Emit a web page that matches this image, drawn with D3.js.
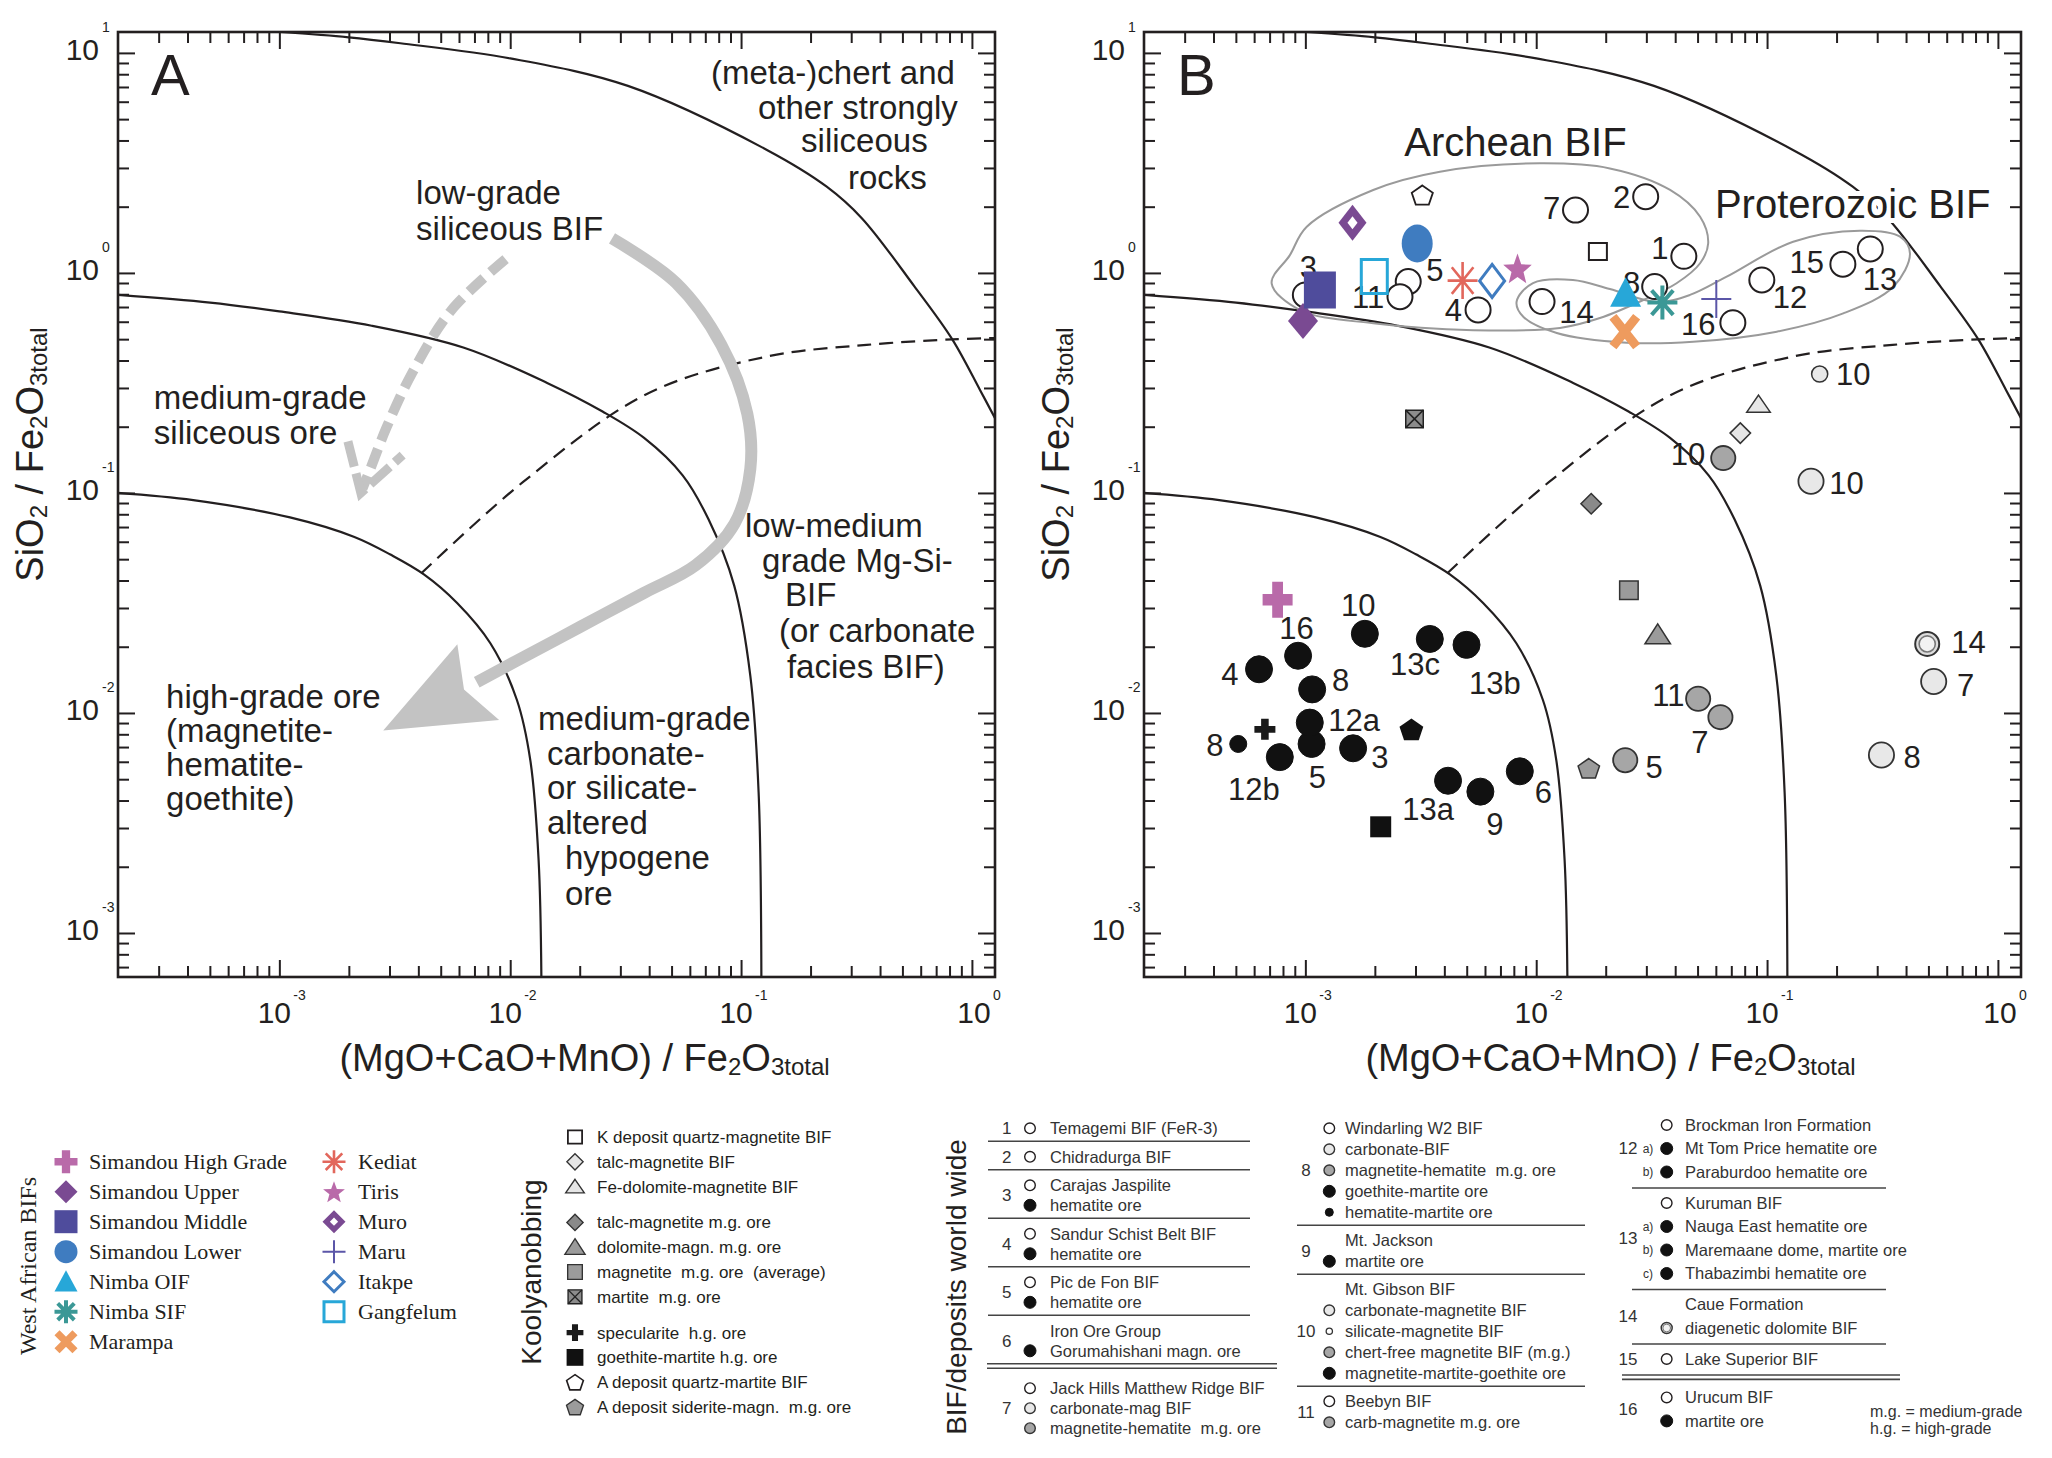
<!DOCTYPE html>
<html>
<head>
<meta charset="utf-8">
<title>SiO2 / Fe2O3 vs (MgO+CaO+MnO) / Fe2O3</title>
<script src="https://cdn.jsdelivr.net/npm/d3@7/dist/d3.min.js"></script>
<style>
  body { margin: 0; background: #ffffff; }
  svg text { font-family: "Liberation Sans", Arial, Helvetica, sans-serif; fill: #231f20; }
  svg text.serif { font-family: "Liberation Serif", "Times New Roman", serif; }
</style>
</head>
<body>
<div id="chart"></div>
<script>
/* ================= data ================= */

// axis ticks (decades) and their exponent labels
var xMajorTicks = [1e-3, 1e-2, 1e-1, 1];
var xTickLabels = ["-3", "-2", "-1", "0"];
var yMajorTicks = [1e-3, 1e-2, 1e-1, 1, 10];
var yTickLabels = ["-3", "-2", "-1", "0", "1"];

// field boundaries, as [log10 x, log10 y]
var outerBoundary = [[-2.996,1.095],[-2.7,1.071],[-2.476,1.044],[-2.0,0.975],[-1.49,0.85],[-0.888,0.559],
  [-0.629,0.392],[-0.477,0.249],[-0.25,-0.06],[-0.085,-0.302],[0.035,-0.532],[0.1,-0.66]];
var middleBoundary = [[-3.699,-0.10],[-3.3,-0.135],[-3.0,-0.175],[-2.6,-0.24],[-2.2,-0.34],[-1.84,-0.5],
  [-1.6,-0.63],[-1.42,-0.75],[-1.253,-0.92],[-1.141,-1.12],[-1.03,-1.42],[-0.96,-1.83],[-0.924,-2.36],[-0.912,-3.2]];
var innerBoundary = [[-3.699,-1.0],[-3.373,-1.033],[-2.954,-1.111],[-2.675,-1.2],[-2.519,-1.28],[-2.374,-1.37],
  [-2.23,-1.5],[-2.086,-1.683],[-1.971,-1.941],[-1.913,-2.214],[-1.877,-2.668],[-1.865,-3.2]];
var dashedBoundary = [[-2.385,-1.365],[-1.944,-0.95],[-1.408,-0.55],[-0.888,-0.38],[-0.456,-0.327],[-0.085,-0.302],[0.1,-0.296]];

// grey envelopes of panel B, [log10 x, log10 y]
var archeanOutline = [[-3.146,-0.047],[-3.067,0.081],[-2.994,0.21],[-2.706,0.377],[-2.417,0.46],[-1.984,0.498],
  [-1.681,0.475],[-1.42,0.377],[-1.29,0.255],[-1.255,0.135],[-1.29,0.044],[-1.392,-0.047],[-1.536,-0.123],
  [-1.724,-0.205],[-1.897,-0.25],[-2.273,-0.26],[-2.706,-0.229],[-3.023,-0.169]];
var proterozoicOutline = [[-2.085,-0.131],[-2.014,-0.046],[-1.841,-0.032],[-1.681,-0.073],[-1.478,-0.132],
  [-1.334,-0.1],[-1.175,-0.017],[-0.887,0.142],[-0.598,0.192],[-0.424,0.165],[-0.381,0.089],[-0.453,-0.063],
  [-0.67,-0.184],[-0.958,-0.267],[-1.32,-0.313],[-1.608,-0.317],[-1.911,-0.273],[-2.056,-0.199]];

// panel A alteration arrows, [log10 x, log10 y]
var solidArrowPath = [[-1.559,0.157],[-1.281,-0.046],[-1.085,-0.328],[-0.973,-0.64],[-0.96,-0.891],[-1.029,-1.141],
  [-1.197,-1.329],[-1.42,-1.454],[-1.699,-1.61],[-1.978,-1.766],[-2.145,-1.86]];
var solidArrowHead = [[-2.55,-2.08],[-2.229,-1.688],[-2.048,-2.032]];   // tip, upper corner, lower corner
var dashedArrowPath = [[-2.02,0.063],[-2.256,-0.171],[-2.424,-0.453],[-2.536,-0.703],[-2.606,-0.891],[-2.64,-0.98]];
var dashedArrowHead = [[-2.703,-0.766],[-2.647,-1.0],[-2.466,-0.828]]; // arm, tip, arm

// panel A field names: [text, x, y]
var panelANotes = [
  ["(meta-)chert and",0.0741,8.18],["other strongly",0.1183,5.67],["siliceous",0.182,3.98],["rocks",0.2904,2.73],
  ["low-grade",0.00391,2.33],["siliceous BIF",0.00391,1.6],
  ["medium-grade",0.000286,0.273],["siliceous ore",0.000286,0.189],
  ["low-medium",0.104,0.0715],["grade Mg-Si-",0.1233,0.0495],["BIF",0.155,0.0344],["(or carbonate",0.146,0.0236],["facies BIF)",0.158,0.01633],
  ["high-grade ore",0.000323,0.01194],["(magnetite-",0.000323,0.00836],["hematite-",0.000323,0.00586],["goethite)",0.000323,0.0041],
  ["medium-grade",0.01318,0.00948],["carbonate-",0.01442,0.00658],["or silicate-",0.01442,0.0046],["altered",0.01442,0.00319],
  ["hypogene",0.01726,0.00221],["ore",0.01726,0.00152]
];

// West African BIFs
var westAfricanNames = ["Simandou High Grade","Simandou Upper","Simandou Middle","Simandou Lower","Nimba OIF","Nimba SIF",
  "Marampa","Kediat","Tiris","Muro","Maru","Itakpe","Gangfelum"];
var westAfricanValues = [[0.000758,0.0327],[0.000977,0.605],[0.001156,0.837],[0.00305,1.36],[0.0244,0.809],[0.0352,0.733],
  [0.0242,0.541],[0.0048,0.923],[0.0083,1.05],[0.0016,1.69],[0.0603,0.76],[0.00644,0.92],[0.00199,0.962]];

// Koolyanobbing
var koolyanobbingNames = ["K deposit quartz-magnetite BIF","talc-magnetite BIF","Fe-dolomite-magnetite BIF",
  "talc-magnetite m.g. ore","dolomite-magn. m.g. ore","magnetite  m.g. ore  (average)","martite  m.g. ore",
  "specularite  h.g. ore","goethite-martite h.g. ore","A deposit quartz-martite BIF","A deposit siderite-magn.  m.g. ore"];
var koolyanobbingValues = [[0.0185,1.25],[0.0766,0.187],[0.0918,0.253],[0.0173,0.0893],[0.0336,0.0227],[0.0252,0.0361],
  [0.00297,0.217],[0.000668,0.00843],[0.00212,0.00304],[0.00321,2.26],[0.0169,0.00561]];
var koolyanobbingGroupSizes = [3, 4, 4];
var unlistedValues = [[0.00288,0.00843]];   // black pentagon without legend entry

// BIF / deposits world wide: [number, kind, x, y]
var worldValues = [
  ["1","open",0.0436,1.19],["2","open",0.0298,2.22],
  ["3","open",0.001,0.794],["3","black",0.00161,0.00691],
  ["4","open",0.0056,0.679],["4","black",0.00063,0.0158],
  ["5","open",0.00279,0.913],["5","black",0.001064,0.00723],["5","medium",0.0243,0.0061],
  ["6","black",0.00849,0.00543],
  ["7","open",0.0148,1.93],["7","light",0.527,0.0139],["7","medium",0.0628,0.00957],
  ["8","open",0.0326,0.867],["8","light",0.313,0.00644],["8","black",0.00107,0.0128],["8","smallBlack",0.000512,0.00723],
  ["9","black",0.00573,0.00439],
  ["10","light",0.155,0.113],["10","smallLight",0.169,0.347],["10","medium",0.0646,0.144],["10","black",0.00181,0.0229],
  ["11","open",0.00257,0.78],["11","medium",0.0503,0.0116],
  ["12","open",0.0949,0.929],["12a","black",0.001045,0.00904],["12b","black",0.000775,0.0063],
  ["13","open",0.28,1.285],["13a","black",0.00415,0.00492],["13b","black",0.00499,0.0204],["13c","black",0.00346,0.0217],
  ["14","open",0.0106,0.741],["14","ring",0.494,0.0206],
  ["15","open",0.213,1.096],
  ["16","open",0.0711,0.594],["16","black",0.00093,0.0182]
];

// number labels beside the points: [text, x, y]
var pointLabels = [
  ["3",0.00103,1.067],["11",0.00187,0.78],["5",0.00364,1.03],["4",0.00438,0.678],["14",0.01496,0.667],
  ["7",0.01167,1.968],["2",0.02344,2.218],["8",0.02588,0.897],["1",0.03436,1.294],["16",0.05035,0.59],
  ["12",0.1256,0.78],["15",0.1486,1.125],["13",0.3083,0.944],["10",0.236,0.3467],
  ["16",0.000916,0.02427],["10",0.001694,0.03097],["13c",0.002985,0.01679],["13b",0.006622,0.01365],
  ["4",0.000471,0.01514],["8",0.001422,0.01413],["12a",0.001626,0.00929],["5",0.001127,0.00513],
  ["12b",0.000598,0.0045],["8",0.000406,0.00714],["3",0.002104,0.00632],["13a",0.003404,0.00368],
  ["9",0.006622,0.00315],["6",0.01074,0.00439],
  ["10",0.0455,0.15],["10",0.2208,0.1109],["11",0.0374,0.01208],["7",0.0512,0.00738],["5",0.0324,0.00569],
  ["14",0.745,0.02113],["7",0.7244,0.01346],["8",0.4246,0.00634]
];
var regionLabels = [["Archean BIF",0.00813,3.96],["Proterozoic BIF",0.235,2.07]];

// world-wide legend: columns of numbered groups, rows = [symbol, text, sub-letter]
var worldLegendCol1 = [
  {num:"1", sep:"single", rows:[["open","Temagemi BIF (FeR-3)"]]},
  {num:"2", sep:"single", rows:[["open","Chidradurga BIF"]]},
  {num:"3", sep:"single", rows:[["open","Carajas Jaspilite"],["black","hematite ore"]]},
  {num:"4", sep:"single", rows:[["open","Sandur Schist Belt BIF"],["black","hematite ore"]]},
  {num:"5", sep:"single", rows:[["open","Pic de Fon BIF"],["black","hematite ore"]]},
  {num:"6", sep:"double", rows:[[null,"Iron Ore Group"],["black","Gorumahishani magn. ore"]]},
  {num:"7", rows:[["open","Jack Hills Matthew Ridge BIF"],["light","carbonate-mag BIF"],["medium","magnetite-hematite  m.g. ore"]]}
];
var worldLegendCol2 = [
  {num:"8", sep:"single", rows:[["open","Windarling W2 BIF"],["light","carbonate-BIF"],["medium","magnetite-hematite  m.g. ore"],
    ["black","goethite-martite ore"],["smallBlack","hematite-martite ore"]]},
  {num:"9", sep:"single", rows:[[null,"Mt. Jackson"],["black","martite ore"]]},
  {num:"10", sep:"single", rows:[[null,"Mt. Gibson BIF"],["light","carbonate-magnetite BIF"],["tiny","silicate-magnetite BIF"],
    ["medium","chert-free magnetite BIF (m.g.)"],["black","magnetite-martite-goethite ore"]]},
  {num:"11", rows:[["open","Beebyn BIF"],["medium","carb-magnetite m.g. ore"]]}
];
var worldLegendCol3 = [
  {num:"12", sep:"single", rows:[["open","Brockman Iron Formation"],["black","Mt Tom Price hematite ore","a)"],["black","Paraburdoo hematite ore","b)"]]},
  {num:"13", sep:"single", rows:[["open","Kuruman BIF"],["black","Nauga East hematite ore","a)"],["black","Maremaane dome, martite ore","b)"],
    ["black","Thabazimbi hematite ore","c)"]]},
  {num:"14", sep:"single", rows:[[null,"Caue Formation"],["ring","diagenetic dolomite BIF"]]},
  {num:"15", sep:"double", rows:[["open","Lake Superior BIF"]]},
  {num:"16", rows:[["open","Urucum BIF"],["black","martite ore"]]}
];
var gradeNote = ["m.g. = medium-grade", "h.g. = high-grade"];

/* ================= styles ================= */
var ink = "#231f20";

var westAfricanStyle = [
  {shape:"plus", fill:"#b96aa9", w:30, h:36},
  {shape:"diamond", fill:"#7a4a92", w:30, h:36},
  {shape:"square", fill:"#4f4c9c", w:32, h:37},
  {shape:"circle", fill:"#3f7cc0", w:31, h:38},
  {shape:"triangle", fill:"#27a7d8", w:31, h:32},
  {shape:"asterisk", stroke:"#3b9896", sw:4, w:30, h:34},
  {shape:"x", stroke:"#ee9b5e", sw:9, w:30, h:36},
  {shape:"asterisk", stroke:"#e2675c", sw:2.6, w:30, h:37},
  {shape:"star", fill:"#b96aa9", w:30, h:33},
  {shape:"diamondHole", fill:"#7a4a92", w:28, h:36},
  {shape:"thinPlus", stroke:"#5b56a8", sw:2, w:30, h:38},
  {shape:"diamond", fill:"#ffffff", stroke:"#3f7cc0", sw:3, w:28, h:36},
  {shape:"square", fill:"none", stroke:"#27a7d8", sw:3, w:29, h:37}
];
var koolyanobbingStyle = [
  {shape:"square", fill:"#ffffff", stroke:ink, sw:2, w:20, h:19},
  {shape:"diamond", fill:"#e6e6e6", stroke:"#333", sw:1.5, w:22, h:22},
  {shape:"triangle", fill:"#e6e6e6", stroke:"#333", sw:1.5, w:25, h:20},
  {shape:"diamond", fill:"#8a8a8a", stroke:"#333", sw:1.5, w:22, h:22},
  {shape:"triangle", fill:"#9b9b9b", stroke:"#333", sw:1.5, w:27, h:23},
  {shape:"square", fill:"#9b9b9b", stroke:"#333", sw:1.5, w:20, h:20},
  {shape:"boxX", fill:"#8c8c8c", stroke:"#222", sw:1.5, w:19, h:19},
  {shape:"plus", fill:"#1a1a1a", w:21, h:21},
  {shape:"square", fill:"#111111", w:21, h:21},
  {shape:"pentagon", fill:"#ffffff", stroke:ink, sw:1.8, w:24, h:23},
  {shape:"pentagon", fill:"#9b9b9b", stroke:"#333", sw:1.5, w:24, h:23}
];
var unlistedStyle = {shape:"pentagon", fill:"#111111", w:25, h:24};

var circleStyle = {
  open:       {fill:"#ffffff", stroke:ink,    sw:2,   r:13.5, lr:6},
  light:      {fill:"#e8e8e8", stroke:"#333", sw:1.8, r:13.5, lr:6},
  medium:     {fill:"#a6a6a6", stroke:"#333", sw:1.8, r:13,   lr:6},
  black:      {fill:"#111111", stroke:"#111", sw:1,   r:14,   lr:6.5},
  smallBlack: {fill:"#111111", stroke:"#111", sw:1,   r:9,    lr:4.5},
  smallLight: {fill:"#e8e8e8", stroke:"#333", sw:1.5, r:8.8,  lr:4},
  tiny:       {fill:"#ffffff", stroke:"#333", sw:1.3, r:5,    lr:3.8},
  ring:       {fill:"#dddddd", stroke:"#333", sw:2,   r:13,   lr:6.2}
};

/* ================= drawing ================= */
var plotTop = 32, plotBottom = 977;
var xDomain = [2e-4, Math.pow(10, 0.1)];
var yDomain = [Math.pow(10, -3.2), Math.pow(10, 1.095)];

var svg = d3.select("#chart").append("svg").attr("width", 2052).attr("height", 1458);
svg.append("rect").attr("width", 2052).attr("height", 1458).attr("fill", "#ffffff");
var defs = svg.append("defs");

function pow10(e){ return Math.pow(10, e); }
function poly(pts){ return "M" + pts.map(function(p){ return p[0].toFixed(2) + "," + p[1].toFixed(2); }).join("L") + "Z"; }

// one marker of the given style centred at cx, cy, drawn w x h pixels
function drawMarker(parent, st, cx, cy, w, h, swk){
  var sw = (st.sw || 0) * (swk || 1);
  var inset = (st.stroke && st.fill) ? sw / 2 : 0;
  var a = w / 2 - inset, b = h / 2 - inset;
  var g = parent.append("g").attr("transform", "translate(" + cx.toFixed(1) + "," + cy.toFixed(1) + ")");
  var fill = st.fill || "none", stroke = st.stroke || "none";
  var d, pts;

  switch (st.shape) {
    case "circle":
      g.append("ellipse").attr("rx", a).attr("ry", b).attr("fill", fill).attr("stroke", stroke).attr("stroke-width", sw);
      return;
    case "square": case "boxX":
      d = poly([[-a,-b],[a,-b],[a,b],[-a,b]]); break;
    case "diamond": case "diamondHole":
      d = poly([[0,-b],[a,0],[0,b],[-a,0]]); break;
    case "triangle":
      d = poly([[0,-b],[a,b*0.85],[-a,b*0.85]]); break;
    case "pentagon":
      pts = d3.range(5).map(function(i){ var t = -Math.PI/2 + i*2*Math.PI/5; return [a*Math.cos(t), b*Math.sin(t) + 0.1*b]; });
      d = poly(pts); break;
    case "star":
      pts = d3.range(10).map(function(i){ var t = -Math.PI/2 + i*Math.PI/5, r = i % 2 ? 0.42 : 1; return [a*r*Math.cos(t), b*r*Math.sin(t) + 0.1*b]; });
      d = poly(pts); break;
    case "plus":
      var u = a*0.36, v = b*0.32;
      d = poly([[-u,-b],[u,-b],[u,-v],[a,-v],[a,v],[u,v],[u,b],[-u,b],[-u,v],[-a,v],[-a,-v],[-u,-v]]); break;
  }
  if (d) {
    g.append("path").attr("d", d).attr("fill", fill).attr("stroke", stroke).attr("stroke-width", sw).attr("stroke-linejoin", "miter");
    if (st.shape === "diamondHole") {
      g.append("path").attr("d", poly([[0,-b*0.36],[a*0.36,0],[0,b*0.36],[-a*0.36,0]])).attr("fill", "#ffffff");
    }
    if (st.shape === "boxX") {
      g.append("path").attr("d", "M" + (-a) + "," + (-b) + "L" + a + "," + b + "M" + a + "," + (-b) + "L" + (-a) + "," + b)
        .attr("stroke", st.stroke).attr("stroke-width", sw).attr("fill", "none");
    }
    return;
  }
  // stroked line symbols
  var q = sw * 0.35, k = 0.72;
  if (st.shape === "x") {
    d = "M" + (-a+q) + "," + (-b+q) + "L" + (a-q) + "," + (b-q) + "M" + (a-q) + "," + (-b+q) + "L" + (-a+q) + "," + (b-q);
  } else if (st.shape === "thinPlus") {
    d = "M0," + (-b) + "V" + b + "M" + (-a) + ",0H" + a;
  } else {
    d = "M0," + (-b) + "V" + b + "M" + (-a) + ",0H" + a +
        "M" + (-a*k) + "," + (-b*k) + "L" + (a*k) + "," + (b*k) + "M" + (a*k) + "," + (-b*k) + "L" + (-a*k) + "," + (b*k);
  }
  g.append("path").attr("d", d).attr("fill", "none").attr("stroke", stroke).attr("stroke-width", sw).attr("stroke-linecap", "butt");
}

function drawCircle(parent, kind, cx, cy, legend){
  var st = circleStyle[kind];
  var r = legend ? st.lr : st.r;
  var sw = legend ? Math.min(st.sw, 1.4) : st.sw;
  parent.append("circle").attr("cx", cx).attr("cy", cy).attr("r", r - sw/2)
    .attr("fill", st.fill).attr("stroke", st.stroke).attr("stroke-width", sw);
  if (kind === "ring") {
    parent.append("circle").attr("cx", cx).attr("cy", cy).attr("r", r*0.62)
      .attr("fill", "#f2f2f2").attr("stroke", "#777").attr("stroke-width", legend ? 1 : 1.6);
  }
}

/*
 * Panel - one log-log diagram
 */
var Panel = function(_name, _left, _right){
  this.name = _name;
  this.left = _left;
  this.right = _right;
  this.initVis();
};

Panel.prototype.initVis = function(){
  var vis = this;

  vis.x = d3.scaleLog().domain(xDomain).range([vis.left, vis.right]);
  vis.y = d3.scaleLog().domain(yDomain).range([plotBottom, plotTop]);
  vis.g = svg.append("g").attr("class", "panel-" + vis.name);

  defs.append("clipPath").attr("id", "clip-" + vis.name)
    .append("rect").attr("x", vis.left).attr("y", plotTop)
    .attr("width", vis.right - vis.left).attr("height", plotBottom - plotTop);
  vis.inner = vis.g.append("g").attr("clip-path", "url(#clip-" + vis.name + ")");

  vis.logLine = d3.line()
    .x(function(d){ return vis.x(pow10(d[0])); })
    .y(function(d){ return vis.y(pow10(d[1])); })
    .curve(d3.curveCatmullRom.alpha(0.5));

  // field boundaries
  [outerBoundary, middleBoundary, innerBoundary].forEach(function(c){
    vis.inner.append("path").attr("d", vis.logLine(c))
      .attr("fill", "none").attr("stroke", ink).attr("stroke-width", 2.2);
  });
  vis.inner.append("path").attr("d", vis.logLine(dashedBoundary))
    .attr("fill", "none").attr("stroke", ink).attr("stroke-width", 2.2).attr("stroke-dasharray", "14,8");

  vis.drawAxes();
};

Panel.prototype.drawAxes = function(){
  var vis = this;
  var minors = function(dom){
    var out = [];
    for (var e = -5; e <= 1; e++) for (var m = 2; m <= 9; m++) {
      var v = m * Math.pow(10, e);
      if (v > dom[0] * 1.001 && v < dom[1] / 1.001) out.push(v);
    }
    return out;
  };
  var sides = [
    {gen: d3.axisBottom(vis.x), tr: "translate(0," + plotBottom + ")", major: xMajorTicks, minor: minors(xDomain)},
    {gen: d3.axisTop(vis.x), tr: "translate(0," + plotTop + ")", major: xMajorTicks, minor: minors(xDomain)},
    {gen: d3.axisLeft(vis.y), tr: "translate(" + vis.left + ",0)", major: yMajorTicks, minor: minors(yDomain)},
    {gen: d3.axisRight(vis.y), tr: "translate(" + vis.right + ",0)", major: yMajorTicks, minor: minors(yDomain)}
  ];
  sides.forEach(function(s){
    [[s.major, 17], [s.minor, 11]].forEach(function(t){
      s.gen.tickValues(t[0]).tickSizeInner(-t[1]).tickSizeOuter(0).tickFormat(function(){ return ""; });
      var ax = vis.g.append("g").attr("transform", s.tr).call(s.gen);
      ax.select(".domain").remove();
      ax.selectAll("text").remove();
      ax.selectAll("line").attr("stroke", ink).attr("stroke-width", 2);
    });
  });

  vis.g.append("rect").attr("x", vis.left).attr("y", plotTop)
    .attr("width", vis.right - vis.left).attr("height", plotBottom - plotTop)
    .attr("fill", "none").attr("stroke", ink).attr("stroke-width", 2.6);

  // x tick labels: "10" just left of the tick, exponent raised after it
  xMajorTicks.forEach(function(v, i){
    var shift = xTickLabels[i] === "0" ? 2 : -5;
    vis.g.append("text").attr("x", vis.x(v) + shift).attr("y", plotBottom + 46)
      .attr("text-anchor", "middle").style("font-size", "30px").text("10");
    vis.g.append("text").attr("x", vis.x(v) + shift + 19).attr("y", plotBottom + 23)
      .style("font-size", "14px").text(xTickLabels[i]);
  });
  // y tick labels
  yMajorTicks.forEach(function(v, i){
    vis.g.append("text").attr("x", vis.left - 19).attr("y", vis.y(v) + 7)
      .attr("text-anchor", "end").style("font-size", "30px").text("10");
    vis.g.append("text").attr("x", vis.left - 16).attr("y", vis.y(v) - 21)
      .style("font-size", "14px").text(yTickLabels[i]);
  });

  // axis titles
  var xt = vis.g.append("text").attr("x", (vis.left + vis.right) / 2 + 28).attr("y", 1071)
    .attr("text-anchor", "middle").style("font-size", "38px");
  xt.append("tspan").text("(MgO+CaO+MnO) / Fe");
  xt.append("tspan").attr("dy", 4).style("font-size", "24px").text("2");
  xt.append("tspan").attr("dy", -4).text("O");
  xt.append("tspan").attr("dy", 4).style("font-size", "24px").text("3total");

  var yt = vis.g.append("text")
    .attr("transform", "translate(" + (vis.left - 75) + "," + ((plotTop + plotBottom) / 2 - 50) + ") rotate(-90)")
    .attr("text-anchor", "middle").style("font-size", "38px");
  yt.append("tspan").text("SiO");
  yt.append("tspan").attr("dy", 4).style("font-size", "24px").text("2");
  yt.append("tspan").attr("dy", -4).text(" / Fe");
  yt.append("tspan").attr("dy", 4).style("font-size", "24px").text("2");
  yt.append("tspan").attr("dy", -4).text("O");
  yt.append("tspan").attr("dy", 4).style("font-size", "24px").text("3total");

  vis.g.append("text").attr("x", vis.left + 33).attr("y", 95).style("font-size", "58px").text(vis.name);
};

// panel A: alteration arrows and field names
Panel.prototype.drawFields = function(){
  var vis = this;
  var px = function(d){ return [vis.x(pow10(d[0])), vis.y(pow10(d[1]))]; };
  var grey = "#c3c3c3";

  vis.inner.append("path").attr("d", vis.logLine(solidArrowPath))
    .attr("fill", "none").attr("stroke", grey).attr("stroke-width", 12);
  var h = solidArrowHead.map(px);
  var mid = [(h[1][0] + h[2][0]) / 2, (h[1][1] + h[2][1]) / 2];
  var notch = [mid[0] + (h[0][0] - mid[0]) * 0.15, mid[1] + (h[0][1] - mid[1]) * 0.15];
  vis.inner.append("path").attr("d", poly([h[0], h[1], notch, h[2]])).attr("fill", grey);

  vis.inner.append("path").attr("d", vis.logLine(dashedArrowPath))
    .attr("fill", "none").attr("stroke", grey).attr("stroke-width", 10).attr("stroke-dasharray", "20,9");
  var dh = dashedArrowHead.map(px);
  vis.inner.append("path").attr("d", "M" + dh.map(function(p){ return p[0] + "," + p[1]; }).join("L"))
    .attr("fill", "none").attr("stroke", grey).attr("stroke-width", 9).attr("stroke-dasharray", "26,7");

  vis.g.selectAll(".note").data(panelANotes).enter().append("text")
    .attr("class", "note")
    .attr("x", function(d){ return vis.x(d[1]); })
    .attr("y", function(d){ return vis.y(d[2]); })
    .attr("dy", "0.35em")
    .style("font-size", "33px")
    .text(function(d){ return d[0]; });
};

// panel B: envelopes and compositions
Panel.prototype.drawPoints = function(){
  var vis = this;
  var closed = d3.line()
    .x(function(d){ return vis.x(pow10(d[0])); })
    .y(function(d){ return vis.y(pow10(d[1])); })
    .curve(d3.curveCatmullRomClosed.alpha(0.5));
  [archeanOutline, proterozoicOutline].forEach(function(o){
    vis.inner.append("path").attr("d", closed(o)).attr("fill", "none").attr("stroke", "#9a9a9a").attr("stroke-width", 2);
  });

  // region names sit on a white halo so the boundary line breaks behind them
  regionLabels.forEach(function(d){
    vis.g.append("text").attr("x", vis.x(d[1])).attr("y", vis.y(d[2])).attr("dy", "0.36em")
      .attr("text-anchor", "middle").style("font-size", "40px")
      .style("stroke", "#ffffff").style("stroke-width", "10px").style("paint-order", "stroke")
      .text(d[0]);
  });

  var pts = vis.g.append("g");
  worldValues.forEach(function(d){ drawCircle(pts, d[1], vis.x(d[2]), vis.y(d[3]), false); });
  koolyanobbingValues.forEach(function(d, i){
    var st = koolyanobbingStyle[i];
    drawMarker(pts, st, vis.x(d[0]), vis.y(d[1]), st.w, st.h);
  });
  unlistedValues.forEach(function(d){
    drawMarker(pts, unlistedStyle, vis.x(d[0]), vis.y(d[1]), unlistedStyle.w, unlistedStyle.h);
  });

  vis.g.selectAll(".plabel").data(pointLabels).enter().append("text")
    .attr("class", "plabel")
    .attr("x", function(d){ return vis.x(d[1]); })
    .attr("y", function(d){ return vis.y(d[2]); })
    .attr("dy", "0.36em").attr("text-anchor", "middle")
    .style("font-size", "31px")
    .text(function(d){ return d[0]; });

  var wa = vis.g.append("g");
  westAfricanValues.forEach(function(d, i){
    var st = westAfricanStyle[i];
    drawMarker(wa, st, vis.x(d[0]), vis.y(d[1]), st.w, st.h);
  });
};

var panelA = new Panel("A", 118, 995);
panelA.drawFields();
var panelB = new Panel("B", 1144, 2021);
panelB.drawPoints();

/* ================= legends ================= */
var legend = svg.append("g").attr("class", "legend");

// West African BIFs
legend.append("text").attr("class", "serif")
  .attr("transform", "translate(36,1266) rotate(-90)").attr("text-anchor", "middle")
  .style("font-size", "24px").text("West African BIFs");
westAfricanNames.forEach(function(name, i){
  var col = i < 7 ? {sx: 66, tx: 89} : {sx: 334, tx: 358};
  var y = 1161.7 + (i < 7 ? i : i - 7) * 30;
  var st = westAfricanStyle[i];
  drawMarker(legend, st, col.sx, y, 23, 23, st.shape === "x" ? 0.8 : 1);
  legend.append("text").attr("class", "serif").attr("x", col.tx).attr("y", y).attr("dy", "0.33em")
    .style("font-size", "22px").text(name);
});

// Koolyanobbing
legend.append("text").attr("transform", "translate(541,1272) rotate(-90)").attr("text-anchor", "middle")
  .style("font-size", "28px").text("Koolyanobbing");
(function(){
  var y = 1137, idx = 0;
  koolyanobbingGroupSizes.forEach(function(n, gi){
    if (gi > 0) y += 11;
    for (var r = 0; r < n; r++, idx++) {
      var st = koolyanobbingStyle[idx];
      drawMarker(legend, st, 575, y, st.w * 0.8, st.h * 0.8, 0.9);
      legend.append("text").attr("x", 597).attr("y", y).attr("dy", "0.35em")
        .style("font-size", "17px").style("white-space", "pre").text(koolyanobbingNames[idx]);
      y += 24.8;
    }
  });
})();

// BIF/deposits world wide
legend.append("text").attr("transform", "translate(966,1287) rotate(-90)").attr("text-anchor", "middle")
  .style("font-size", "28px").text("BIF/deposits world wide");

var worldColumns = [
  {groups: worldLegendCol1, y0: 1128.3, rowGap: 20, lineAfter: 13, lineBefore: 15.5, doubleBefore: 20,
   numX: 1006.7, circleX: 1030, textX: 1050, lineX: [988, 1250], doubleX: [987, 1277]},
  {groups: worldLegendCol2, y0: 1128.3, rowGap: 21, lineAfter: 13, lineBefore: 15, doubleBefore: 20,
   numX: 1306, circleX: 1329.3, textX: 1345, lineX: [1297, 1585], doubleX: [1297, 1585]},
  {groups: worldLegendCol3, y0: 1125, rowGap: 23.5, lineAfter: 16, lineBefore: 15, doubleBefore: 18,
   numX: 1628, subX: 1648, circleX: 1666.7, textX: 1685, lineX: [1632, 1886], doubleX: [1622, 1900]}
];
worldColumns.forEach(function(col){
  var y = col.y0;
  col.groups.forEach(function(grp){
    var rowsY = [];
    grp.rows.forEach(function(r, ri){
      if (ri > 0) y += col.rowGap;
      rowsY.push(y);
      if (r[0]) drawCircle(legend, r[0], col.circleX, y, true);
      legend.append("text").attr("x", col.textX).attr("y", y).attr("dy", "0.35em")
        .style("font-size", "16.5px").style("fill", "#333").style("white-space", "pre").text(r[1]);
      if (r[2]) legend.append("text").attr("x", col.subX).attr("y", y).attr("dy", "0.35em")
        .attr("text-anchor", "middle").style("font-size", "12px").style("fill", "#333").text(r[2]);
    });
    legend.append("text").attr("x", col.numX).attr("y", d3.mean(rowsY)).attr("dy", "0.35em")
      .attr("text-anchor", "middle").style("font-size", "17px").style("fill", "#333").text(grp.num);
    if (grp.sep) {
      y += col.lineAfter;
      var ext = grp.sep === "double" ? col.doubleX : col.lineX;
      var ys = grp.sep === "double" ? [y, y + 4.4] : [y];
      ys.forEach(function(ly){
        legend.append("line").attr("x1", ext[0]).attr("x2", ext[1]).attr("y1", ly).attr("y2", ly)
          .attr("stroke", "#444").attr("stroke-width", 1.6);
      });
      y = ys[ys.length - 1] + (grp.sep === "double" ? col.doubleBefore : col.lineBefore);
    }
  });
});
gradeNote.forEach(function(t, i){
  legend.append("text").attr("x", 1870).attr("y", 1411.7 + i * 16.6).attr("dy", "0.35em")
    .style("font-size", "16px").style("fill", "#333").text(t);
});
</script>
</body>
</html>
